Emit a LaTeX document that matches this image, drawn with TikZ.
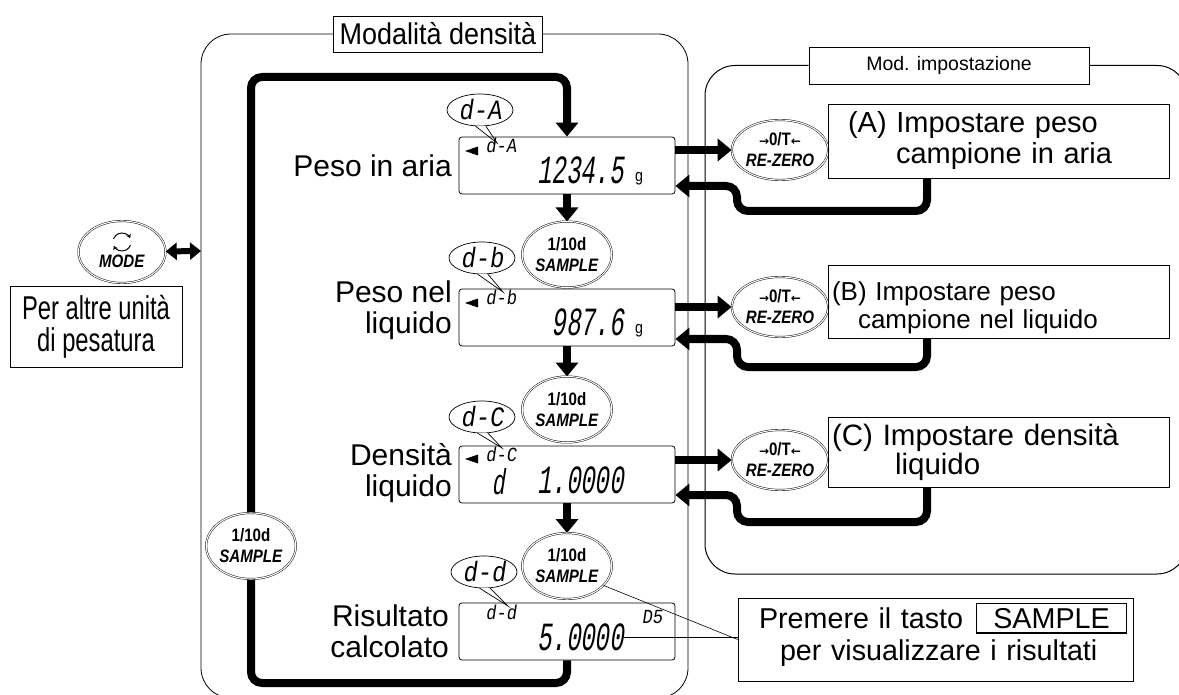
\documentclass[tikz,border=0pt]{standalone}
\usepackage{fontspec}
\setmainfont{Liberation Sans}
\newfontfamily\tallfont{Liberation Sans}[FakeStretch=0.72]
\newfontfamily\titlefont{Liberation Sans}[FakeStretch=0.9]
\newfontfamily\keyfont{Liberation Sans}[FakeStretch=0.84, BoldFeatures={FakeStretch=0.84}, ItalicFeatures={FakeStretch=0.84}, BoldItalicFeatures={FakeStretch=0.84}]
\newfontfamily\symfont{DejaVu Sans}
\newfontfamily\lcdfont{Liberation Mono}[FakeSlant=0.15,FakeStretch=0.6]
\newfontfamily\lcdwide{Liberation Mono}[FakeSlant=0.15,FakeStretch=0.85]
\usetikzlibrary{shapes.geometric,arrows.meta}
\setlength{\fboxsep}{4pt}
\setlength{\fboxrule}{1.2pt}

\newcommand\keyarrow[1]{\raisebox{0.5pt}{\symfont\bfseries\fontsize{12}{12}\selectfont#1}}

\tikzset{
  lcdbox/.style={draw, rounded corners=3pt, line width=0.8pt, minimum width=216pt, minimum height=57pt},
  lcdbig/.style={inner sep=0pt, anchor=base east, font=\lcdfont\fontsize{40}{40}\selectfont},
  lcdcode/.style={inner sep=0pt, anchor=base, font=\lcdwide\fontsize{20}{20}\selectfont},
  unitg/.style={inner sep=0pt, anchor=base, font=\keyfont\fontsize{17}{17}\selectfont},
  keybtn/.style={ellipse, draw, double, double distance=1.1pt, line width=0.45pt, fill=white, minimum width=88pt, minimum height=66pt, inner sep=0pt, align=center, font=\keyfont\fontsize{18}{21}\selectfont\bfseries},
  bubble/.style={ellipse, draw, line width=0.7pt, fill=white, minimum width=66pt, minimum height=32pt, inner sep=0pt, font=\lcdwide\fontsize{28}{28}\selectfont},
  steplabel/.style={anchor=east, align=right, inner sep=0pt, font=\fontsize{30}{31}\selectfont},
  setbox/.style={draw, line width=0.8pt, minimum width=341pt, text width=333pt, inner xsep=4pt, inner ysep=0pt, align=left},
  modetitle/.style={draw, fill=white, line width=0.8pt, inner xsep=6pt, minimum height=36pt},
  flowline/.style={line width=8pt, rounded corners=11pt},
  flowarrow/.style={flowline, -{Triangle[length=14pt,width=22pt]}},
  leader/.style={line width=0.6pt}
}

\begin{document}
\begin{tikzpicture}[x=1pt, y=-1pt]
\useasboundingbox (0,0) rectangle (1179,695);

% the two mode frames
\node[modetitle, font=\titlefont\fontsize{30}{30}\selectfont] (densTitle) at (438,34) {Modalità densità};
\draw[line width=0.8pt, rounded corners=30pt] (densTitle.west) -- (201,34) -- (201,698) -- (688,698) -- (688,34) -- (densTitle.east);
\node[modetitle, minimum width=280pt, minimum height=37pt, font=\fontsize{19.5}{20}\selectfont] (setTitle) at (949,65.5) {Mod. impostazione};
\draw[line width=1pt, rounded corners=30pt] (setTitle.west) -- (705,65.5) -- (705,574) -- (1187,574) -- (1187,65.5) -- (setTitle.east);

% call-outs
\node[bubble] (bubA) at (480,110) {d-A};
\coordinate (tipA) at (497,143);
\fill[white] (bubA.255) -- (tipA) -- (bubA.290) -- cycle;
\draw[line width=0.7pt] (bubA.255) -- (tipA) -- (bubA.290);
\node[bubble] (bubB) at (482,258) {d-b};
\coordinate (tipB) at (503,292);
\fill[white] (bubB.255) -- (tipB) -- (bubB.290) -- cycle;
\draw[line width=0.7pt] (bubB.255) -- (tipB) -- (bubB.290);
\node[bubble] (bubC) at (482,417) {d-C};
\coordinate (tipC) at (502,448);
\fill[white] (bubC.255) -- (tipC) -- (bubC.290) -- cycle;
\draw[line width=0.7pt] (bubC.255) -- (tipC) -- (bubC.290);
\node[bubble] (bubD) at (484,572) {d-d};
\coordinate (tipD) at (508,606);
\fill[white] (bubD.255) -- (tipD) -- (bubD.290) -- cycle;
\draw[line width=0.7pt] (bubD.255) -- (tipD) -- (bubD.290);

% displays
\node[lcdbox] (disp1) at (567,165.5) {};
\node[lcdbox] (disp2) at (567,317.5) {};
\node[lcdbox] (disp3) at (567,474.5) {};
\node[lcdbox] (disp4) at (567,631.5) {};

\fill (465,151) -- (478,146.5) -- (478,155.5) -- cycle;
\node[lcdcode] (codeA) at (501,153) {d-A};
\node[lcdbig] (valA) at (624,184) {1234.5};
\node[unitg] (unitA) at (639,182) {g};

\fill (465,303) -- (478,298.5) -- (478,307.5) -- cycle;
\node[lcdcode] (codeB) at (501,305) {d-b};
\node[lcdbig] (valB) at (624,336) {987.6};
\node[unitg] (unitB) at (639,334) {g};

\fill (465,459) -- (478,454.5) -- (478,463.5) -- cycle;
\node[lcdcode] (codeC) at (501,461) {d-C};
\node[lcdbig, anchor=base, font=\lcdfont\fontsize{36}{36}\selectfont] (signC) at (498,494) {d};
\node[lcdbig] (valC) at (624,493) {1.0000};

\node[lcdcode] (codeD) at (501,619) {d-d};
\node[lcdbig] (valD) at (624,650) {5.0000};
\node[lcdcode] (unitD) at (652,623) {D5};

% main loop
\coordinate (loopTL) at (251,77);
\coordinate (loopBL) at (251,683);
\draw[flowarrow] (disp4.south) |- (loopBL) -- (loopTL) -| (disp1.north);

% step names
\node[steplabel] (lblAir) at (452,166) {Peso in aria};
\node[steplabel] (lblLiq) at (452,310.7) {Peso nel\\liquido};
\node[steplabel] (lblDens) at (452,472.7) {Densità\\liquido};
\node[steplabel] (lblRes) at (449,631.5) {Risultato\\calcolato};

% SAMPLE keys
\draw[flowarrow] (disp1.south) -- (567,221.5);
\draw[flowarrow] (disp2.south) -- (567,376.5);
\draw[flowarrow] (disp3.south) -- (567,533);
\node[keybtn] (sampleA) at (567,254.5) {1/10d\\\textit{SAMPLE}};
\node[keybtn] (sampleB) at (567,409.5) {1/10d\\\textit{SAMPLE}};
\node[keybtn] (sampleC) at (567,566) {1/10d\\\textit{SAMPLE}};
\node[keybtn] (sampleLoop) at (251,546) {1/10d\\\textit{SAMPLE}};

% MODE key
\node[keybtn, minimum width=87pt, minimum height=62pt] (modeBtn) at (122,252) {\rule{0pt}{14pt}\\[-3pt]\textit{MODE}};
\coordinate (modeIcon) at (122,242);
\draw[line width=1pt, -{Stealth[length=4pt,width=5pt]}] ([shift={(-160:9)}]modeIcon) arc (-160:-25:9);
\draw[line width=1pt, -{Stealth[length=4pt,width=5pt]}] ([shift={(20:9)}]modeIcon) arc (20:155:9);
\coordinate (modeEnd) at (201,251);
\draw[line width=6pt, {Triangle[length=11pt,width=17pt]}-{Triangle[length=11pt,width=17pt]}] (modeBtn) -- (modeEnd);
\node[draw, line width=0.8pt, minimum width=172pt, minimum height=81pt, align=center, font=\tallfont\fontsize{33}{32}\selectfont] (unitsBox) at (96,326.5) {Per altre unità\\di pesatura};

% setting mode
\node[keybtn, minimum width=86pt, minimum height=60pt] (zeroA) at (780,150) {\keyarrow{→}0/T\keyarrow{←}\\\textit{RE-ZERO}};
\node[keybtn, minimum width=86pt, minimum height=60pt] (zeroB) at (780,307) {\keyarrow{→}0/T\keyarrow{←}\\\textit{RE-ZERO}};
\node[keybtn, minimum width=86pt, minimum height=60pt] (zeroC) at (780,460) {\keyarrow{→}0/T\keyarrow{←}\\\textit{RE-ZERO}};

\node[setbox, minimum height=74pt, font=\fontsize{29}{31}\selectfont] (setA) at (998.5,141) {\hspace*{16pt}(A) Impostare peso\\\hspace*{64pt}campione in aria};
\node[setbox, minimum height=73pt, font=\fontsize{26}{28}\selectfont] (setB) at (998.5,301.5) {\rule{0pt}{31pt}(B) Impostare peso\\\hspace*{26pt}campione nel liquido};
\node[setbox, minimum height=70pt, font=\fontsize{29.5}{21}\selectfont] (setC) at (998.5,452) {\lineskiplimit=-100pt\relax (C) Impostare densità\\\hspace*{63pt}liquido};

\draw[flowarrow] (disp1.east |- zeroA) -- (zeroA);
\draw[flowarrow] (disp2.east |- zeroB) -- (zeroB);
\draw[flowarrow] (disp3.east |- zeroC) -- (zeroC);

\coordinate (dropA) at (927,211);
\coordinate (bendA) at (737,211);
\coordinate (backA) at (737,186);
\draw[flowarrow] (setA.south -| dropA) -- (dropA) -- (bendA) -- (backA) -- (disp1.east |- backA);
\coordinate (dropB) at (927,367);
\coordinate (bendB) at (737,367);
\coordinate (backB) at (737,339);
\draw[flowarrow] (setB.south -| dropB) -- (dropB) -- (bendB) -- (backB) -- (disp2.east |- backB);
\coordinate (dropC) at (927,522);
\coordinate (bendC) at (737,522);
\coordinate (backC) at (737,495);
\draw[flowarrow] (setC.south -| dropC) -- (dropC) -- (bendC) -- (backC) -- (disp3.east |- backC);

% hint
\node[draw, line width=0.8pt, minimum width=395pt, minimum height=83pt, text width=387pt, inner xsep=4pt, inner ysep=0pt, align=left, font=\fontsize{28.7}{32}\selectfont] (hint) at (935.5,639.5) {\hspace*{17pt}Premere il tasto\hspace{13pt}\fbox{\hspace{12pt}SAMPLE\hspace{12pt}}\\\hspace*{38pt}per visualizzare i risultati\rule[-16pt]{0pt}{16pt}};
\draw[leader] (sampleC.-28) -- (hint.west);
\draw[leader] (valD.east) -- (valD.east -| hint.west);
\end{tikzpicture}
\end{document}
